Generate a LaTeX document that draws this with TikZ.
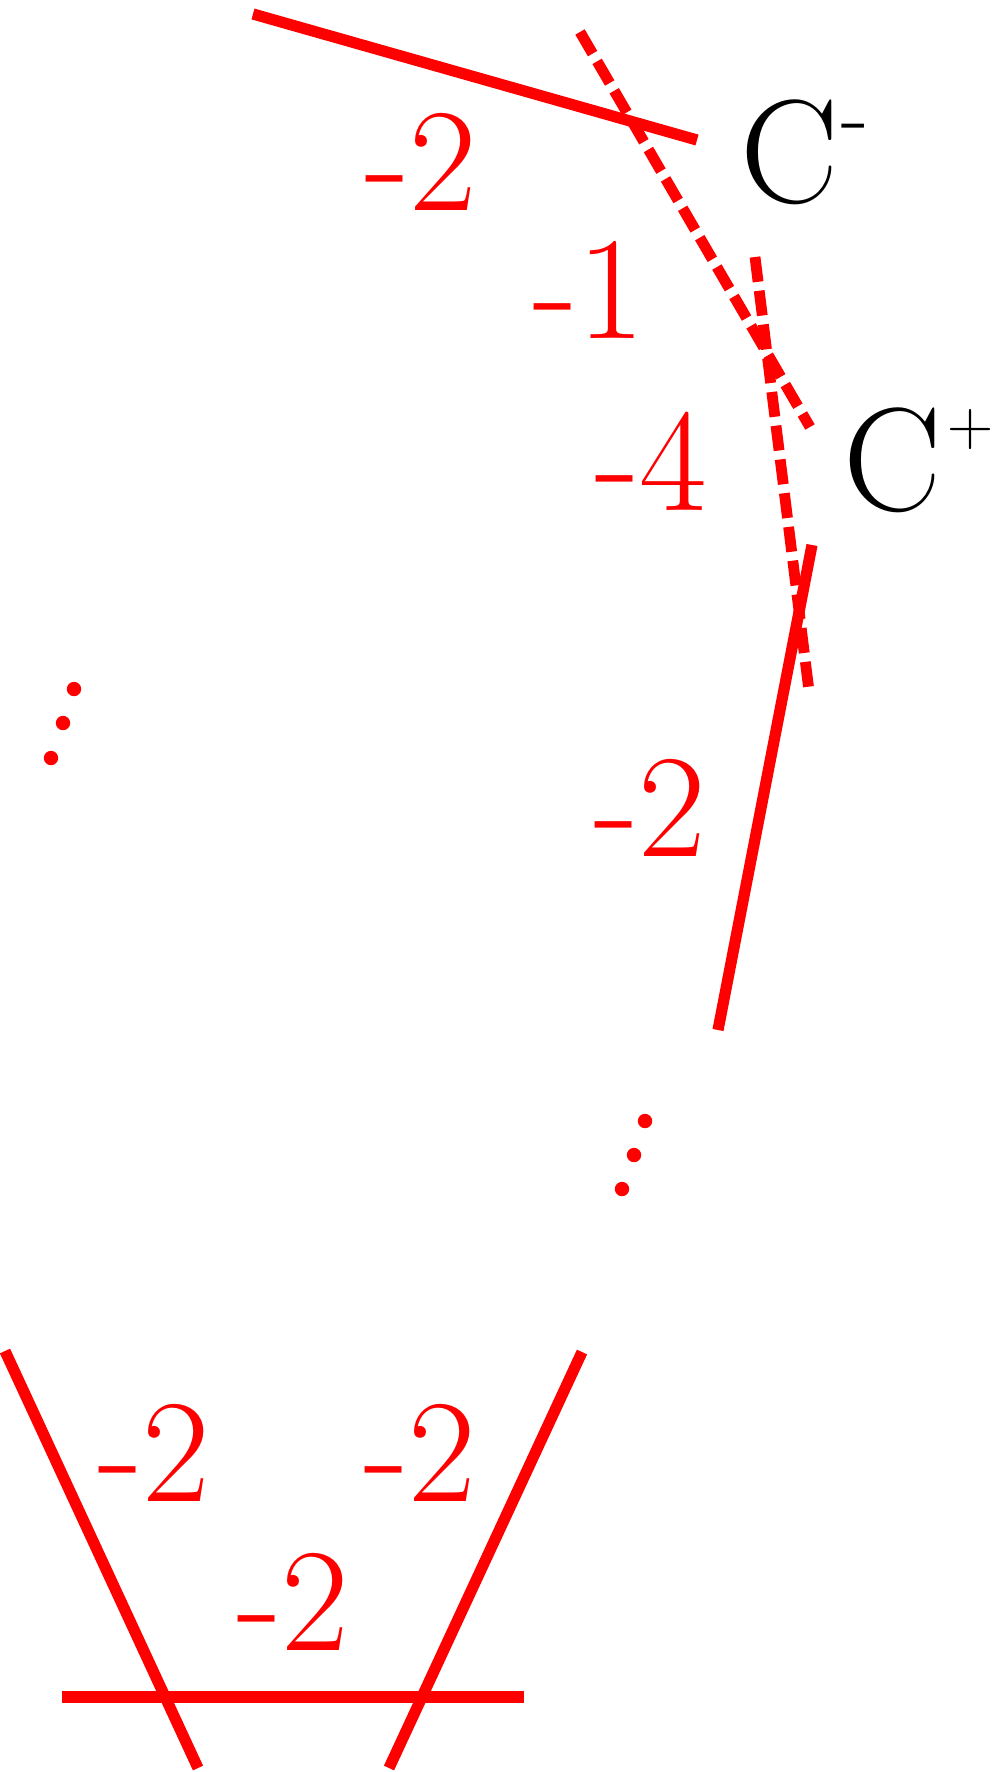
\documentclass[tikz,border=0pt]{standalone}
\begin{document}
\begin{tikzpicture}[x=0.5pt,y=-0.5pt,
  seg/.style={red, line width=5.6pt, line cap=butt},
  dseg/.style={red, line width=5.4pt, dash pattern=on 12.5pt off 4.5pt},
  num/.style={red, font=\fontsize{73.5}{80}\selectfont, inner sep=0pt, anchor=base},
  clab/.style={black, font=\fontsize{73.5}{80}\selectfont, inner sep=0pt, anchor=base west},
  dotc/.style={red}]
\useasboundingbox (0,0) rectangle (994,1772);
% end points
\coordinate (s1a) at (253,14);  \coordinate (s1b) at (697,140);
\coordinate (dAa) at (580,32);  \coordinate (dAb) at (810,427);
\coordinate (dBa) at (755,257); \coordinate (dBb) at (809,691);
\coordinate (s2a) at (812,545); \coordinate (s2b) at (718,1030);
\coordinate (bLa) at (5,1351);  \coordinate (bLb) at (198,1768);
\coordinate (bRa) at (582,1352);\coordinate (bRb) at (389,1768);
\coordinate (bHa) at (62,1697); \coordinate (bHb) at (524,1697);
% lines
\draw[seg] (s1a) -- (s1b);
\draw[dseg] (dAa) -- (dAb);
\draw[dseg] (dBa) -- (dBb);
\draw[seg] (s2a) -- (s2b);
\draw[seg] (bLa) -- (bLb);
\draw[seg] (bRa) -- (bRb);
\draw[seg] (bHa) -- (bHb);
% dots
\fill[dotc] (74,689) circle (3.6pt) coordinate (d1);
\fill[dotc] (63,723) circle (3.6pt) coordinate (d2);
\fill[dotc] (51,758) circle (3.6pt) coordinate (d3);
\fill[dotc] (645,1121) circle (3.6pt) coordinate (d4);
\fill[dotc] (634,1155) circle (3.6pt) coordinate (d5);
\fill[dotc] (622,1189) circle (3.6pt) coordinate (d6);
% labels
\node[num] (n1) at (421,210) {-2};
\node[num] (n2) at (589,338) {-1};
\node[num] (n3) at (651,510) {-4};
\node[num] (n4) at (650,856) {-2};
\node[num] (n5) at (154,1501) {-2};
\node[num] (n6) at (420,1501) {-2};
\node[num] (n7) at (293,1650) {-2};
\node[clab] (cm) at (740,202) {C\kern1.5pt\raisebox{28.5pt}{\fontsize{45}{45}\selectfont -}};
\node[clab] (cp) at (843,510) {C\kern3pt\raisebox{32.5pt}{\fontsize{32}{32}\selectfont +}};
\end{tikzpicture}
\end{document}
